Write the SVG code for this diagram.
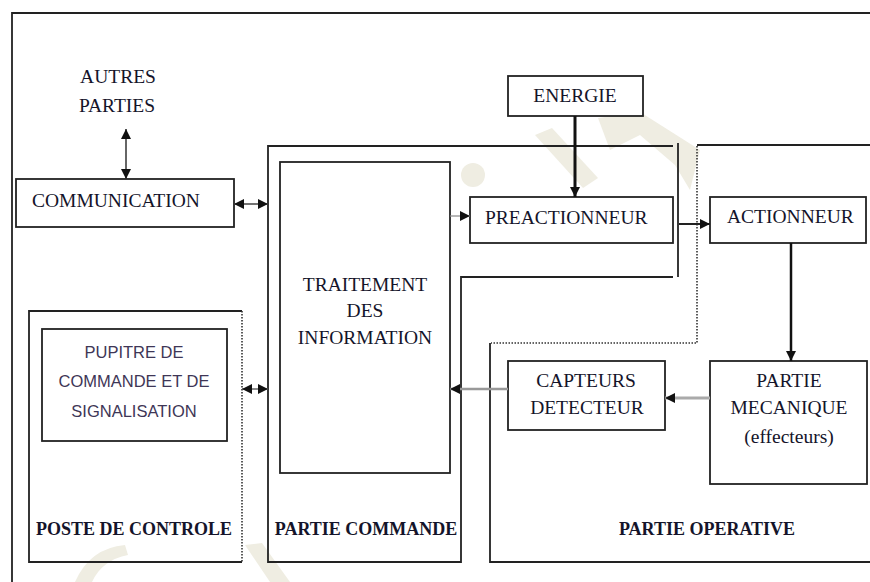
<svg xmlns="http://www.w3.org/2000/svg" width="870" height="582" viewBox="0 0 870 582">
<style>
.bx{fill:#fff;stroke:#222;stroke-width:1.8}
.fr{fill:none;stroke:#222;stroke-width:1.8}
.dot{fill:none;stroke:#333;stroke-width:1.6;stroke-dasharray:1.5 1.5}
.t{font-family:"Liberation Serif","Times New Roman",serif;font-size:19.5px;fill:#14142a}
.b{font-family:"Liberation Serif","Times New Roman",serif;font-size:18px;font-weight:bold;fill:#14142a}
.s{font-family:"Liberation Sans",Arial,sans-serif;font-size:16.5px;fill:#3e3656}
.m{text-anchor:middle}
.wm{fill:#efede2}
</style>
<defs>
<marker id="ah" markerUnits="userSpaceOnUse" markerWidth="10" markerHeight="10" refX="10" refY="5" orient="auto-start-reverse">
<path d="M0,0 L10,5 L0,10 z" fill="#111"/>
</marker>
</defs>
<rect width="870" height="582" fill="#fff"/>
<g id="watermark">
<circle class="wm" cx="473" cy="175" r="12"/>
<path class="wm" d="M535,135 L552,128 L598,178 L583,188 Z"/>
<path class="wm" d="M598,118 L640,112 L700,150 L690,190 L675,165 L640,135 L610,150 Z"/>
<path class="wm" d="M75,582 Q90,548 125,545 L128,555 Q102,560 92,582 Z"/>
<path class="wm" d="M245,545 L262,543 L290,582 L270,582 Z"/>
</g>
<g id="frame">
<path class="fr" d="M12,582 L12,13 L870,13"/>
</g>
<g id="poste-de-controle">
<path class="fr" d="M242,311 L29,311 L29,562 L242,562"/>
<path class="dot" d="M242,311 L242,562"/>
<text class="b m" x="134" y="535">POSTE DE CONTROLE</text>
</g>
<g id="pupitre">
<rect class="bx" x="42" y="329" width="185" height="112"/>
<text class="s m" x="134" y="358">PUPITRE DE</text>
<text class="s m" x="134" y="387">COMMANDE ET DE</text>
<text class="s m" x="134" y="417">SIGNALISATION</text>
</g>
<g id="partie-commande">
<path class="fr" d="M673,146 L268,146 L268,562 L461,562 L461,277 L673,277"/>
<path class="fr" d="M678,143 L678,277"/>
<text class="b m" x="366" y="535">PARTIE COMMANDE</text>
</g>
<g id="partie-operative">
<path class="fr" d="M697,145 L870,145"/>
<path class="dot" d="M697,146 L697,343 L491,343"/>
<path class="fr" d="M490,343 L490,562 L870,562"/>
<text class="b m" x="707" y="535">PARTIE OPERATIVE</text>
</g>
<g id="autres-parties">
<text class="t m" x="118" y="83">AUTRES</text>
<text class="t m" x="117" y="112">PARTIES</text>
</g>
<g id="communication">
<rect class="bx" x="16" y="179" width="218" height="48"/>
<text class="t" x="32" y="207">COMMUNICATION</text>
</g>
<g id="traitement">
<rect class="bx" x="280" y="162" width="170" height="311"/>
<text class="t m" x="365" y="291">TRAITEMENT</text>
<text class="t m" x="365" y="317">DES</text>
<text class="t m" x="365" y="344">INFORMATION</text>
</g>
<g id="energie">
<rect class="bx" x="508" y="76" width="135" height="40"/>
<text class="t m" x="575" y="102">ENERGIE</text>
</g>
<g id="preactionneur">
<rect class="bx" x="470" y="197" width="203" height="46"/>
<text class="t" x="485" y="224">PREACTIONNEUR</text>
</g>
<g id="actionneur">
<rect class="bx" x="710" y="197" width="156" height="46"/>
<text class="t" x="727" y="223">ACTIONNEUR</text>
</g>
<g id="capteurs">
<rect class="bx" x="508" y="361" width="157" height="69"/>
<text class="t m" x="586" y="387">CAPTEURS</text>
<text class="t m" x="587" y="414">DETECTEUR</text>
</g>
<g id="partie-mecanique">
<rect class="bx" x="710" y="361" width="157" height="123"/>
<text class="t m" x="789" y="387">PARTIE</text>
<text class="t m" x="789" y="414">MECANIQUE</text>
<text class="t m" x="789" y="443">(effecteurs)</text>
</g>
<g id="connectors">
<line x1="126" y1="129" x2="126" y2="179" stroke="#333" stroke-width="1.5" marker-start="url(#ah)" marker-end="url(#ah)"/>
<line x1="234" y1="204" x2="268" y2="204" stroke="#444" stroke-width="1.5" marker-start="url(#ah)" marker-end="url(#ah)"/>
<line x1="242" y1="389" x2="268" y2="389" stroke="#666" stroke-width="1.5" marker-start="url(#ah)" marker-end="url(#ah)"/>
<line x1="450" y1="216" x2="470" y2="216" stroke="#888" stroke-width="1.2" marker-end="url(#ah)"/>
<line x1="575" y1="116" x2="575" y2="197" stroke="#111" stroke-width="3" marker-end="url(#ah)"/>
<line x1="679" y1="224" x2="710" y2="224" stroke="#222" stroke-width="2" marker-end="url(#ah)"/>
<line x1="791" y1="243" x2="791" y2="361" stroke="#111" stroke-width="2.5" marker-end="url(#ah)"/>
<line x1="710" y1="398" x2="665" y2="398" stroke="#aaa" stroke-width="3" marker-end="url(#ah)"/>
<line x1="508" y1="389" x2="450" y2="389" stroke="#999" stroke-width="2.5" marker-end="url(#ah)"/>
</g>
</svg>
